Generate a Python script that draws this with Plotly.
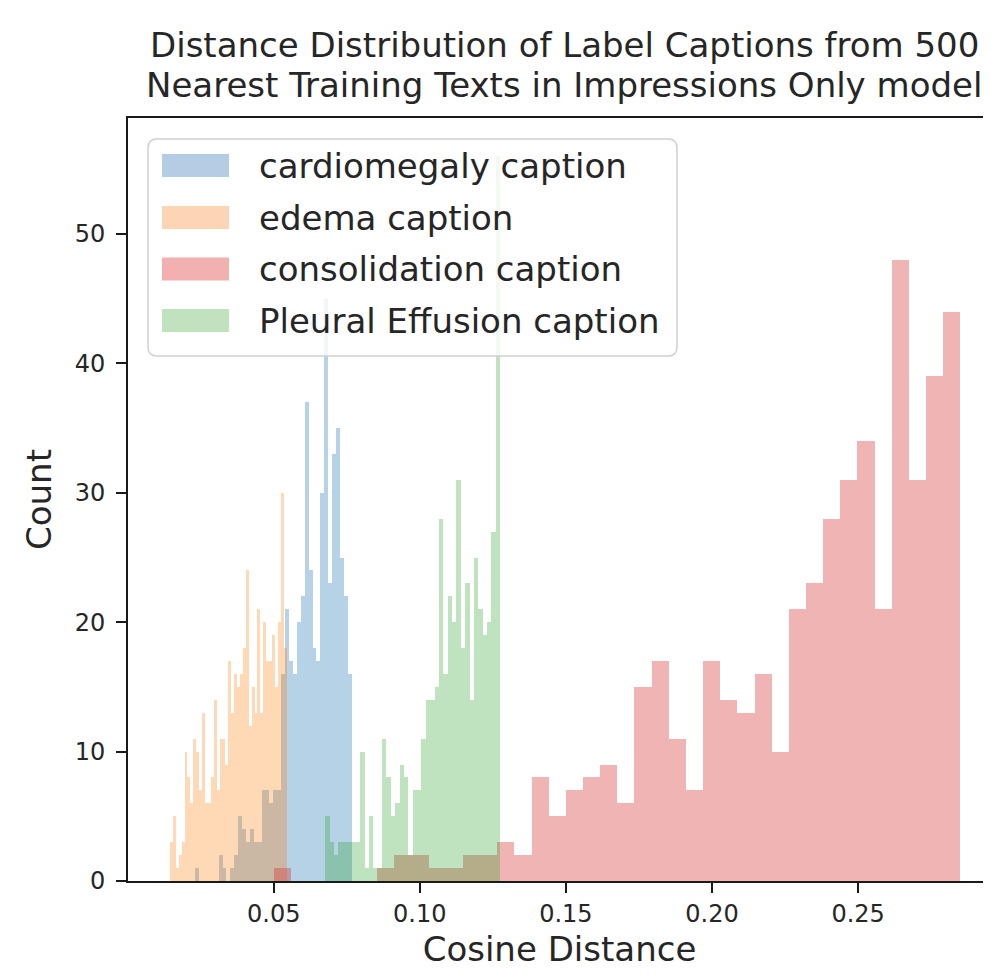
import numpy as np
import plotly.graph_objects as go

# ---------------- data ----------------
title_lines = ["Distance Distribution of Label Captions from 500",
               "Nearest Training Texts in Impressions Only model"]
x_label = "Cosine Distance"
y_label = "Count"

series_names = ["cardiomegaly caption", "edema caption",
                "consolidation caption", "Pleural Effusion caption"]

n_bins = 40
# (min, max) of each series' histogram
cardiomegaly_range = [0.0231, 0.0767]
edema_range = [0.0145, 0.0544]
consolidation_range = [0.0502, 0.2850]
pleural_range = [0.0676, 0.1275]

cardiomegaly_counts = [1, 0, 0, 0, 0, 0, 2, 1, 0, 1, 2, 5, 4, 3, 4, 3, 3, 7, 7, 6,
                       7, 7, 16, 21, 17, 16, 20, 22, 37, 24, 18, 17, 30, 45, 23, 33, 35, 25, 22, 16]
edema_counts = [3, 5, 1, 2, 3, 10, 8, 6, 11, 10, 7, 13, 6, 6, 8, 14, 7, 11, 11, 9,
                17, 13, 16, 15, 16, 18, 24, 12, 15, 13, 21, 13, 20, 17, 17, 19, 15, 20, 30, 18]
consolidation_counts = [1, 0, 0, 0, 0, 0, 1, 2, 2, 1, 1, 2, 2, 3, 2, 8, 5, 7, 8, 9,
                        6, 15, 17, 11, 7, 17, 14, 13, 16, 10, 21, 23, 28, 31, 34, 21, 48, 31, 39, 44]
pleural_counts = [5, 3, 2, 3, 3, 3, 3, 3, 10, 1, 5, 1, 1, 11, 8, 5, 6, 9, 8, 2,
                  7, 7, 11, 14, 14, 15, 28, 16, 22, 20, 31, 18, 23, 14, 25, 21, 19, 20, 27, 56]

x_tick_vals = [0.05, 0.10, 0.15, 0.20, 0.25]
x_tick_text = ["0.05", "0.10", "0.15", "0.20", "0.25"]
y_tick_vals = [0, 10, 20, 30, 40, 50]
y_tick_text = ["0", "10", "20", "30", "40", "50"]

# ---------------- styling ----------------
colors = ["rgba(31,119,180,0.33)", "rgba(255,127,14,0.30)",
          "rgba(214,39,40,0.35)", "rgba(44,160,44,0.30)"]
legend_colors = ["rgb(180,205,228)", "rgb(252,214,180)",
                 "rgb(242,176,177)", "rgb(192,226,190)"]

OFF = 8                      # page offset of the figure inside the browser window
W, H = 991 - OFF, 977 - 2 * OFF
# plot box in reference-window pixels
REF_L, REF_T, REF_B = 128, 118, 881
L, T = REF_L - OFF, REF_T - OFF
B = H - (REF_B - OFF)
R = 0
PW, PH = W - L - R, H - T - B
FONT = "DejaVu Sans"
TXT = "#262626"
PX_PER_X = 2922.0            # reference pixels per unit of cosine distance
X0_PX = 127.6                # reference pixel of x = 0
PX_PER_COUNT = 12.94


def to_paper(rx, ry):
    """reference-window pixel -> paper coordinates"""
    fx, fy = rx - OFF, ry - OFF
    return (fx - L) / PW, (H - B - fy) / PH


fig = go.Figure()
ranges = [cardiomegaly_range, edema_range, consolidation_range, pleural_range]
counts = [cardiomegaly_counts, edema_counts, consolidation_counts, pleural_counts]
for name, rg, cnt, col in zip(series_names, ranges, counts, colors):
    edges = np.linspace(rg[0], rg[1], n_bins + 1)
    centers = (edges[:-1] + edges[1:]) / 2
    fig.add_trace(go.Bar(
        x=centers, y=cnt, width=edges[1] - edges[0], name=name,
        marker=dict(color=col, line=dict(width=0)),
    ))

# ---------------- custom matplotlib-like legend ----------------
shapes = []
annotations = []
bx0, by0, bx1, by1, rad = 148, 139, 677, 356, 9


def rounded_path(x0, y0, x1, y1, r):
    def P(x, y):
        u, v = to_paper(x, y)
        return f"{u:.6f},{v:.6f}"
    return (f"M {P(x0 + r, y0)} L {P(x1 - r, y0)} Q {P(x1, y0)} {P(x1, y0 + r)} "
            f"L {P(x1, y1 - r)} Q {P(x1, y1)} {P(x1 - r, y1)} "
            f"L {P(x0 + r, y1)} Q {P(x0, y1)} {P(x0, y1 - r)} "
            f"L {P(x0, y0 + r)} Q {P(x0, y0)} {P(x0 + r, y0)} Z")


shapes.append(dict(type="path", xref="paper", yref="paper", layer="above",
                   path=rounded_path(bx0, by0, bx1, by1, rad),
                   fillcolor="rgba(255,255,255,0.8)", line=dict(color="#d0d0d0", width=1.5)))
row_y = [165.5, 217.5, 269.0, 320.5]
for name, col, ry in zip(series_names, legend_colors, row_y):
    u0, v0 = to_paper(162, ry - 11.5)
    u1, v1 = to_paper(229, ry + 11.5)
    shapes.append(dict(type="rect", xref="paper", yref="paper", layer="above",
                       x0=u0, x1=u1, y0=v1, y1=v0, fillcolor=col, line=dict(width=0)))
    tu, tv = to_paper(257, ry)
    annotations.append(dict(text=name, xref="paper", yref="paper", x=tu, y=tv,
                            xanchor="left", yanchor="middle", showarrow=False,
                            font=dict(family=FONT, size=34, color=TXT)))

# ---------------- two-line title ----------------
for line, ry in zip(title_lines, [45, 85]):
    tu, tv = to_paper(564, ry)
    annotations.append(dict(text=line, xref="paper", yref="paper", x=tu, y=tv,
                            xanchor="center", yanchor="middle", showarrow=False,
                            font=dict(family=FONT, size=34, color=TXT)))

axis_common = dict(showline=True, linecolor="#1a1a1a", linewidth=2, ticks="outside",
                   ticklen=10, tickwidth=2, tickcolor="#1a1a1a", showgrid=False,
                   zeroline=False, tickfont=dict(family=FONT, size=24, color=TXT))

fig.update_layout(
    width=W, height=H,
    margin=dict(l=L, r=R, t=T, b=B, autoexpand=False),
    plot_bgcolor="white", paper_bgcolor="white",
    barmode="overlay", bargap=0, showlegend=False,
    font=dict(family=FONT, color=TXT),
    xaxis=dict(range=[(REF_L - X0_PX) / PX_PER_X, (991 - X0_PX) / PX_PER_X], mirror=True,
               tickvals=x_tick_vals, ticktext=x_tick_text, ticklabelstandoff=0,
               title=dict(text=x_label, font=dict(family=FONT, size=34, color=TXT), standoff=23),
               **axis_common),
    yaxis=dict(range=[0, (REF_B - REF_T) / PX_PER_COUNT], mirror=False,
               tickvals=y_tick_vals, ticktext=y_tick_text, ticklabelstandoff=6,
               title=dict(text=y_label, font=dict(family=FONT, size=34, color=TXT), standoff=13),
               **axis_common),
    shapes=shapes, annotations=annotations,
)

fig.write_html("out.html")
